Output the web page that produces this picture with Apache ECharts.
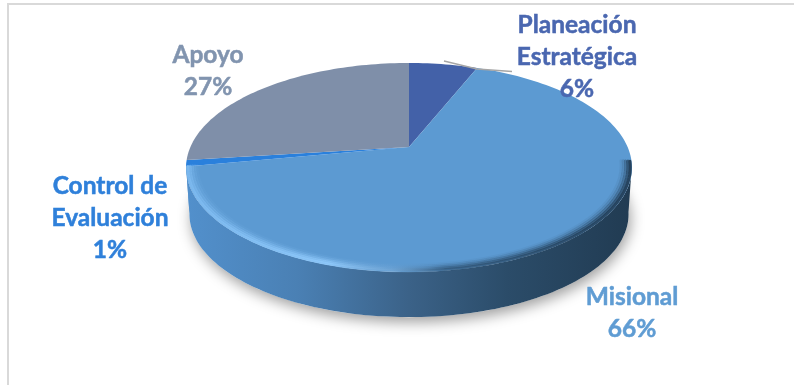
<!DOCTYPE html>
<html>
<head>
<meta charset="utf-8">
<style>html,body{margin:0;padding:0;background:#fff}#chart{width:794px;height:385px}</style>
<script src="https://cdn.jsdelivr.net/npm/echarts@6/dist/echarts.min.js"></script>
</head>
<body>
<div id="chart"></div>
<script>
// Process share by type
const categories = ['Planeación\nEstratégica', 'Misional', 'Control de\nEvaluación', 'Apoyo'];
const shares = [6, 66, 1, 27];
const sliceColors = ['#4361a8', '#5c9ad2', '#2a80dc', '#7f8fa9'];
const labelColors = ['#4a67b0', '#5f9cd3', '#2f80da', '#8194af'];
const labelAnchors = [[577, 57], [632, 313], [110, 218], [208, 71]];

// Tilted disc: the pie centre projects above the middle of its ellipse
const apex = { x: 409, y: 147 };
const tilt = { k: 0.196, bx: 218.6, by: 100.5 };
const depth = 47;
const bottomScale = 0.985;

const total = shares.reduce((a, b) => a + b, 0);

function project(deg, frac, lower) {
  const t = deg * Math.PI / 180;
  const u = Math.sin(t) * frac, v = -Math.cos(t) * frac;
  const w = 1 - tilt.k * v;
  const s = lower ? bottomScale : 1;
  return [apex.x + s * tilt.bx * u / w, apex.y + s * tilt.by * v / w + (lower ? depth : 0)];
}
function arc(from, to, frac, lower) {
  const pts = [];
  const n = Math.max(2, Math.ceil((to - from) / 1.5));
  for (let i = 0; i <= n; i++) pts.push(project(from + (to - from) * i / n, frac, lower));
  return pts;
}
function sliceRange(i) {
  let s = 0;
  for (let j = 0; j < i; j++) s += shares[j];
  return [s / total * 360, (s + shares[i]) / total * 360];
}

const Gradient = echarts.graphic.LinearGradient;
const wallFill = () => new Gradient(186, 0, 632, 0, [
  { offset: 0, color: '#5290cc' },
  { offset: 0.25, color: '#4a80b4' },
  { offset: 0.5, color: '#3b6288' },
  { offset: 0.72, color: '#2b4c69' },
  { offset: 1, color: '#213b52' }
], true);
const rimStroke = (a) => new Gradient(186, 0, 632, 0, [
  { offset: 0, color: `rgba(125,186,240,${a})` },
  { offset: 0.32, color: `rgba(142,200,250,${a})` },
  { offset: 0.46, color: `rgba(120,170,215,${a * 0.5})` },
  { offset: 0.58, color: `rgba(45,80,112,${a * 0.7})` },
  { offset: 1, color: `rgba(32,58,82,${a})` }
], true);

const seriesData = categories.map((name, i) => ({ name, value: shares[i] }));

const option = {
  animation: false,
  backgroundColor: '#fff',
  graphic: [
    { type: 'polyline', silent: true, shape: { points: [[8, 385], [8, 4], [794, 4]] },
      style: { stroke: '#d9d9d9', lineWidth: 2, fill: null } }
  ],
  series: [
    { // soft drop shadow under the disc
      type: 'custom', coordinateSystem: 'none', silent: true, z: 1,
      data: [total],
      renderItem: () => ({
        type: 'polygon',
        shape: { points: arc(0, 360, 1, true) },
        style: { fill: '#fff', shadowBlur: 14, shadowColor: 'rgba(0,0,0,0.38)', shadowOffsetX: 2, shadowOffsetY: 5 }
      })
    },
    { // outer wall, front half only
      type: 'custom', coordinateSystem: 'none', silent: true, z: 2,
      data: seriesData,
      renderItem: (params) => {
        const [a, b] = sliceRange(params.dataIndex);
        const from = Math.max(a, 100), to = Math.min(b, 262);
        if (to <= from) return null;
        return {
          type: 'polygon',
          shape: { points: arc(from, to, 1, false).concat(arc(from, to, 1, true).reverse()) },
          style: { fill: wallFill() }
        };
      }
    },
    { // top face
      type: 'custom', coordinateSystem: 'none', silent: true, z: 3,
      data: seriesData,
      renderItem: (params) => {
        const [a, b] = sliceRange(params.dataIndex);
        return {
          type: 'polygon',
          shape: { points: [[apex.x, apex.y]].concat(arc(a, b, 1, false)) },
          style: { fill: sliceColors[params.dataIndex] }
        };
      }
    },
    { // bevelled edge along the front of the top face
      type: 'custom', coordinateSystem: 'none', silent: true, z: 4,
      data: [[0.993, 0.9], [0.983, 0.68], [0.973, 0.4], [0.963, 0.2], [0.953, 0.08]],
      renderItem: (params, api) => ({
        type: 'polyline',
        shape: { points: arc(98, 259.2, api.value(0), false) },
        style: { fill: null, stroke: rimStroke(api.value(1)), lineWidth: 3, lineCap: 'round' }
      })
    },
    { // slice labels
      type: 'custom', coordinateSystem: 'none', silent: true, z: 6,
      data: seriesData,
      renderItem: (params) => {
        const i = params.dataIndex;
        return {
          type: 'text',
          x: labelAnchors[i][0], y: labelAnchors[i][1],
          style: {
            text: categories[i] + '\n' + shares[i] + '%',
            fill: labelColors[i],
            stroke: labelColors[i],
            lineWidth: 0.5,
            font: 'bold 24.5px Lato, "Open Sans", sans-serif',
            lineHeight: 32,
            align: 'center', verticalAlign: 'middle'
          }
        };
      }
    },
    { // leader line from the small slice
      type: 'custom', coordinateSystem: 'none', silent: true, z: 5,
      data: [shares[0]],
      renderItem: () => ({
        type: 'polyline',
        shape: { points: [[444, 61], [477, 69], [512, 71.5]] },
        style: { fill: null, stroke: '#a6a6a6', lineWidth: 1.4 }
      })
    }
  ]
};

echarts.init(document.getElementById('chart')).setOption(option);
</script>
</body>
</html>
